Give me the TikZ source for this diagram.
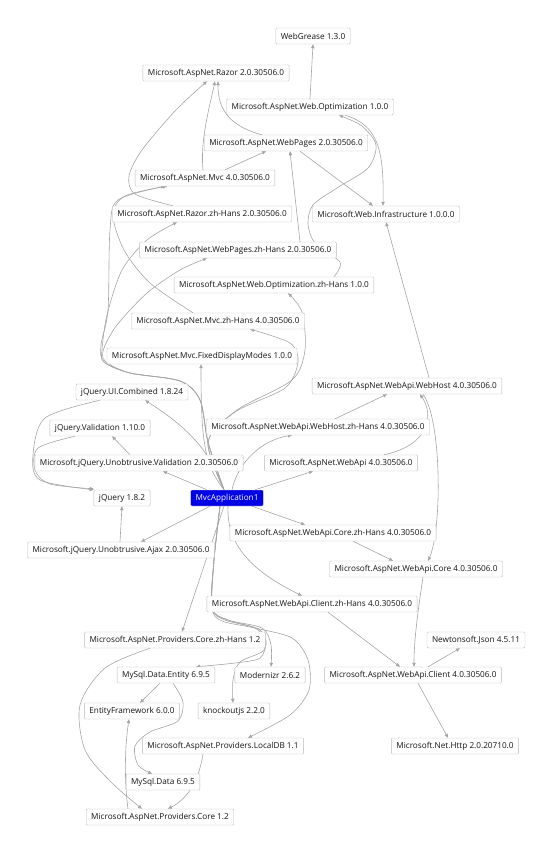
\documentclass[tikz,border=0pt]{standalone}
\usepackage{fontspec}
\setmainfont{Open Sans}
\usetikzlibrary{arrows.meta}

\definecolor{pkgline}{RGB}{185,185,185}
\definecolor{pkgtext}{RGB}{20,20,20}
\definecolor{depline}{RGB}{165,165,165}
\definecolor{projblue}{RGB}{0,0,230}
\definecolor{projline}{RGB}{250,245,190}

\pgfdeclarelayer{edges}
\pgfsetlayers{edges,main}

\tikzset{
  pkg/.style={draw=pkgline, fill=white, rounded corners=1pt, minimum height=16pt,
    inner xsep=5pt, inner ysep=0pt, text=pkgtext, font=\fontsize{8.2}{9}\selectfont},
  proj/.style={pkg, draw=projline, fill=projblue, text=white},
  dep/.style={draw=depline, line width=0.6pt, -{Triangle[length=4pt,width=3.4pt]}},
}

\begin{document}
\begin{tikzpicture}[x=1pt,y=-1pt]
\useasboundingbox (0,0) rectangle (554,855);

% packages, top to bottom
\node[pkg] (webgrease) at (313,36) {WebGrease 1.3.0};
\node[pkg] (razor) at (216,73) {Microsoft.AspNet.Razor 2.0.30506.0};
\node[pkg] (webopt) at (310,107) {Microsoft.AspNet.Web.Optimization 1.0.0};
\node[pkg] (webpages) at (286,143) {Microsoft.AspNet.WebPages 2.0.30506.0};
\node[pkg] (mvc) at (205,178) {Microsoft.AspNet.Mvc 4.0.30506.0};
\node[pkg] (webinfra) at (386,214) {Microsoft.Web.Infrastructure 1.0.0.0};
\node[pkg] (razorzh) at (202,214) {Microsoft.AspNet.Razor.zh-Hans 2.0.30506.0};
\node[pkg] (webpageszh) at (238,250) {Microsoft.AspNet.WebPages.zh-Hans 2.0.30506.0};
\node[pkg] (weboptzh) at (274,285) {Microsoft.AspNet.Web.Optimization.zh-Hans 1.0.0};
\node[pkg] (mvczh) at (218,321) {Microsoft.AspNet.Mvc.zh-Hans 4.0.30506.0};
\node[pkg] (fixdm) at (202,356) {Microsoft.AspNet.Mvc.FixedDisplayModes 1.0.0};
\node[pkg] (webhost) at (407,386) {Microsoft.AspNet.WebApi.WebHost 4.0.30506.0};
\node[pkg] (jqui) at (132,392) {jQuery.UI.Combined 1.8.24};
\node[pkg] (webhostzh) at (318,427) {Microsoft.AspNet.WebApi.WebHost.zh-Hans 4.0.30506.0};
\node[pkg] (jqval) at (100,428) {jQuery.Validation 1.10.0};
\node[pkg] (unobval) at (139,463) {Microsoft.jQuery.Unobtrusive.Validation 2.0.30506.0};
\node[pkg] (webapi) at (341,463) {Microsoft.AspNet.WebApi 4.0.30506.0};
\node[pkg] (jquery) at (122,498) {jQuery 1.8.2};
\node[proj] (app) at (227,498) {MvcApplication1};
\node[pkg] (unobajax) at (121,550) {Microsoft.jQuery.Unobtrusive.Ajax 2.0.30506.0};
\node[pkg] (corezh) at (333,533) {Microsoft.AspNet.WebApi.Core.zh-Hans 4.0.30506.0};
\node[pkg] (core) at (416,569) {Microsoft.AspNet.WebApi.Core 4.0.30506.0};
\node[pkg] (clientzh) at (312,604) {Microsoft.AspNet.WebApi.Client.zh-Hans 4.0.30506.0};
\node[pkg] (provzh) at (175,640) {Microsoft.AspNet.Providers.Core.zh-Hans 1.2};
\node[pkg] (newton) at (476,640) {Newtonsoft.Json 4.5.11};
\node[pkg] (mysqlent) at (166,675) {MySql.Data.Entity 6.9.5};
\node[pkg] (modernizr) at (270,675) {Modernizr 2.6.2};
\node[pkg] (client) at (413,675) {Microsoft.AspNet.WebApi.Client 4.0.30506.0};
\node[pkg] (ef) at (132,711) {EntityFramework 6.0.0};
\node[pkg] (knockout) at (234,711) {knockoutjs 2.2.0};
\node[pkg] (localdb) at (223,746) {Microsoft.AspNet.Providers.LocalDB 1.1};
\node[pkg] (nethttp) at (455,746) {Microsoft.Net.Http 2.0.20710.0};
\node[pkg] (mysqldata) at (163,782) {MySql.Data 6.9.5};
\node[pkg] (provcore) at (160,817) {Microsoft.AspNet.Providers.Core 1.2};

\begin{pgfonlayer}{edges}
% package dependencies
\draw[dep] (webopt.north) -- (webgrease.south);
\draw[dep] ([xshift=-24pt]webpages.north) .. controls (225,125) and (218,105) .. ([xshift=2pt]razor.south);
\draw[dep] ([xshift=-2pt]mvc.north) .. controls (200,140) and (210,105) .. ([xshift=-1pt]razor.south);
\draw[dep] ([xshift=20pt]mvc.north) -- ([xshift=-20pt]webpages.south);
\draw[dep] plot[smooth] coordinates {([xshift=-29pt]razorzh.north) (135,194) (129,176) (142,150) (176,110) ([xshift=-9pt]razor.south)};
\draw[dep] ([xshift=62pt]webpageszh.north) -- ([xshift=4pt]webpages.south);
\draw[dep] ([xshift=14pt]webpages.south) -- ([xshift=-13pt]webinfra.north);
\draw[dep] ([xshift=35pt]webopt.south) .. controls (378,125) and (384,150) .. ([xshift=-3pt]webinfra.north);
\draw[dep] ([xshift=22pt]webhost.north) -- (webinfra.south);
\draw[dep] plot[smooth] coordinates {([xshift=60pt]weboptzh.north) (340,262) (315,243) (308,224) (313,205) (337,188) (368,168) (376,145) (362,126) ([xshift=29pt]webopt.south)};
\draw[dep] plot[smooth] coordinates {([xshift=-25pt]mvczh.north) (150,283) (124,250) (113,215) (125,196) ([xshift=-38pt]mvc.south)};
\draw[dep] ([xshift=-1pt]unobajax.north) -- (jquery.south);
\draw[dep] ([xshift=-9pt]unobval.north) -- ([xshift=12pt]jqval.south);
\draw[dep] plot[smooth] coordinates {([xshift=-32pt]jqui.south) (45,418) (33,455) (40,480) (jquery.north west)};
\draw[dep] plot[smooth] coordinates {([xshift=-25pt]jqval.south) (38,448) (35,470) (50,484) ([yshift=1pt]jquery.north west)};
\draw[dep] ([xshift=17pt]webhostzh.north) -- ([xshift=-20pt]webhost.south);
\draw[dep] ([xshift=-34pt]webapi.north east) .. controls (430,445) and (434,415) .. ([xshift=13pt]webhost.south);
\draw[dep] ([xshift=16pt]webhost.south) .. controls (442,420) and (442,530) .. ([xshift=12pt]core.north);
\draw[dep] ([xshift=20pt]corezh.south) -- ([xshift=-23pt]core.north);
\draw[dep] ([xshift=7pt]core.south) .. controls (418,610) and (414,640) .. ([xshift=1pt]client.north);
\draw[dep] ([xshift=16pt]clientzh.south) -- ([xshift=-13pt]client.north);
\draw[dep] ([xshift=15pt]client.north) -- ([xshift=-16pt]newton.south);
\draw[dep] ([xshift=5pt]client.south) -- ([xshift=-7pt]nethttp.north);
\draw[dep] plot[smooth] coordinates {([xshift=-25pt]provzh.south) (105,668) (80,705) (85,750) (112,783) ([xshift=-18pt]provcore.north)};
\draw[dep] ([xshift=-32pt]provcore.north) .. controls (124,780) and (125,745) .. ([xshift=-3pt]ef.south);
\draw[dep] ([xshift=-20pt]localdb.south) .. controls (198,785) and (185,800) .. ([xshift=8pt]provcore.north);
\draw[dep] ([xshift=-6pt]mysqlent.south) -- ([xshift=8pt]ef.north);
\draw[dep] plot[smooth] coordinates {([xshift=7pt]mysqlent.south) (183,702) (178,721) (150,732) (135,746) (138,765) ([xshift=-11pt]mysqldata.north)};

% project references
\draw[dep] plot[smooth] coordinates {([xshift=-3pt]app.north) (208,442) (200,400) (180,381) (130,373) (104,362) (101,345) (108,310) (110,230) (118,200) ([xshift=-40pt]mvc.south)};
\draw[dep] plot[smooth] coordinates {([xshift=-3pt]app.north) (208,442) (200,400) (180,381) (130,373) (104,362) (102,350) (107,315) (122,270) (147,240) ([xshift=-25pt]razorzh.south)};
\draw[dep] plot[smooth] coordinates {([xshift=-3pt]app.north) (208,442) (200,400) (180,381) (130,373) (105,361) (104,348) (117,325) (147,293) (180,270) ([xshift=-31pt]webpageszh.south)};
\draw[dep] ([xshift=-3pt]app.north) .. controls (205,465) and (201,445) .. ([xshift=-1pt]fixdm.south);
\draw[dep] plot[smooth] coordinates {([xshift=-3pt]app.north) (208,442) (235,412) (285,388) (298,362) (290,343) ([xshift=32pt]mvczh.south)};
\draw[dep] plot[smooth] coordinates {([xshift=-3pt]app.north) (208,442) (237,410) (292,380) (305,350) (302,312) ([xshift=14pt]weboptzh.south)};
\draw[dep] ([xshift=-3pt]app.north) .. controls (212,460) and (200,435) .. ([xshift=13pt]jqui.south);
\draw[dep] ([xshift=-20pt]app.north) -- ([xshift=24pt]unobval.south);
\draw[dep] ([xshift=-17pt]app.south) -- ([xshift=20pt]unobajax.north);
\draw[dep] ([xshift=28pt]app.north) -- ([xshift=-28pt]webapi.south);
\draw[dep] ([xshift=5pt]app.north) .. controls (238,462) and (262,440) .. ([xshift=-26pt]webhostzh.south);
\draw[dep] ([xshift=25pt]app.south) -- ([xshift=-28pt]corezh.north);
\draw[dep] ([xshift=1pt]app.south) .. controls (226,550) and (260,575) .. ([xshift=-10pt]clientzh.north);
\draw[dep] ([xshift=-3pt]app.south) -- ([xshift=7pt]provzh.north);
\draw[dep] plot[smooth] coordinates {([xshift=-7pt]app.south) (214,560) (212,608) (222,621) (255,628) (292,638) (308,660) (309,690) (290,715) ([xshift=25pt]localdb.north)};
\draw[dep] plot[smooth] coordinates {([xshift=-7pt]app.south) (214,560) (212,608) (225,620) (255,628) (266,641) (260,658) (235,663) ([xshift=30pt]mysqlent.north)};
\draw[dep] plot[smooth] coordinates {([xshift=-7pt]app.south) (214,560) (212,608) (228,620) (262,628) (271,645) ([xshift=1pt]modernizr.north)};
\draw[dep] plot[smooth] coordinates {([xshift=-7pt]app.south) (214,560) (212,608) (228,620) (260,630) (264,650) (240,662) (233,680) ([xshift=-1pt]knockout.north)};
\end{pgfonlayer}
\end{tikzpicture}
\end{document}
